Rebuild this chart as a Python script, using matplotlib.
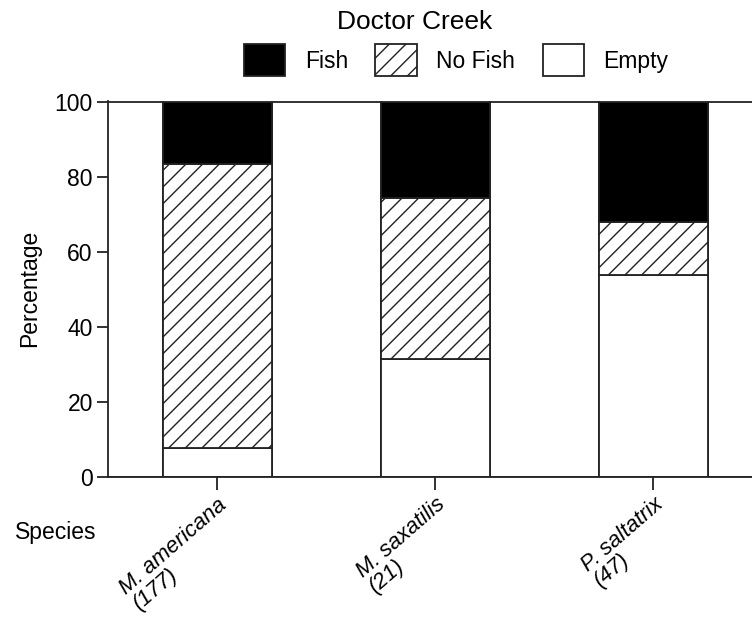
import matplotlib
matplotlib.use('Agg')
import matplotlib.pyplot as plt
from matplotlib.patches import Patch

plt.rcParams['font.family'] = ['Liberation Sans', 'DejaVu Sans']
plt.rcParams['hatch.linewidth'] = 1.0

# данные (проценты)
species = ['M. americana\n(177)', 'M. saxatilis\n(21)', 'P. saltatrix\n(47)']
empty = [7.7, 31.4, 53.9]
no_fish = [75.8, 43.1, 14.0]
fish = [16.5, 25.5, 32.1]

W, H = 752, 619
fig = plt.figure(figsize=(W / 100, H / 100), dpi=100)

ymax = 100.4
top_px = 102 - (ymax - 100) * 3.75
ax = fig.add_axes([108 / W, 1 - 477 / H, 1 - 108 / W, (477 - top_px) / H])

edge = '#222222'
lw = 1.3

# пустые колонки между видами
gaps = [0, 2, 4, 6]
ax.bar(gaps, [100] * len(gaps), width=1.0, color='white', edgecolor=edge, linewidth=lw)

xs = [1, 3, 5]
ax.bar(xs, empty, width=1.0, color='white', edgecolor=edge, linewidth=lw)
ax.bar(xs, no_fish, bottom=empty, width=1.0, color='white', edgecolor=edge,
       linewidth=lw, hatch='//')
bottom2 = [e + n for e, n in zip(empty, no_fish)]
ax.bar(xs, fish, bottom=bottom2, width=1.0, color='black', edgecolor=edge, linewidth=lw)

ax.set_xlim(0, 0.5 + (W - 163) / 109)
ax.set_ylim(0, ymax)

ax.spines['top'].set_visible(False)
ax.spines['right'].set_visible(False)
ax.spines['left'].set_linewidth(lw)
ax.spines['bottom'].set_linewidth(lw)
ax.spines['left'].set_color(edge)
ax.spines['bottom'].set_color(edge)

ax.set_yticks([0, 20, 40, 60, 80, 100])
ax.tick_params(axis='y', length=7.9, width=lw, pad=3, labelsize=16.5, color=edge)
ax.tick_params(axis='x', length=9.4, width=lw, pad=3, labelsize=16, color=edge)

ax.set_xticks(xs)
ax.set_xticklabels(species, rotation=41, ha='right', va='top',
                   rotation_mode='anchor', style='italic',
                   multialignment='left', linespacing=0.95)

ax.set_ylabel('Percentage', fontsize=16.5)
ax.yaxis.set_label_coords(-(108 - 41) / (W - 108), 0.5)

fig.text(15 / W, 1 - 533 / H, 'Species', ha='left', va='center', fontsize=16.5)
fig.text(415 / W, 1 - 22 / H, 'Doctor Creek', ha='center', va='center', fontsize=19)

handles = [
    Patch(facecolor='black', edgecolor=edge, linewidth=lw, label='Fish'),
    Patch(facecolor='white', edgecolor=edge, linewidth=lw, hatch='//', label='No Fish'),
    Patch(facecolor='white', edgecolor=edge, linewidth=lw, label='Empty'),
]
fig.legend(handles=handles, loc='upper left', bbox_to_anchor=(244 / W, 1 - 44 / H),
           ncol=3, frameon=False, fontsize=16.5, handlelength=1.8, handleheight=1.8,
           handletextpad=0.85, columnspacing=1.2, borderpad=0, borderaxespad=0)

fig.savefig('out.png', dpi=100)
